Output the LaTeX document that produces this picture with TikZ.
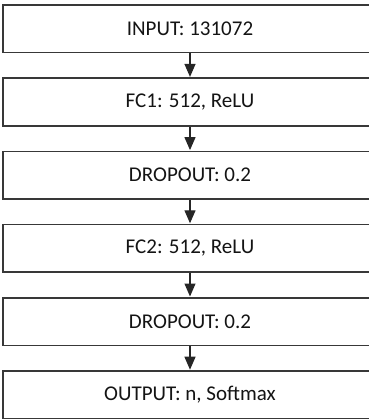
\documentclass[tikz,border=0pt]{standalone}
\usepackage{fontspec}
\setmainfont{Carlito}
\usetikzlibrary{arrows.meta}
\begin{document}
\begin{tikzpicture}[x=1pt,y=-1pt,
  layerbox/.style={draw=black!78, line width=1.6pt, fill=white, minimum width=374pt, minimum height=47.5pt, inner sep=0pt, font=\fontsize{21}{24}\selectfont, text=black!92},
  flow/.style={draw=black!85, line width=1.2pt, -{Triangle[width=11pt,length=13pt]}, shorten >=0.5pt}]
\useasboundingbox (0,0) rectangle (369,420);
\clip (0,0) rectangle (369,420);
\node[layerbox] (in)  at (190,28.75)  {INPUT: 131072};
\node[layerbox] (fc1) at (190,101.95) {FC1: 512, ReLU};
\node[layerbox] (d1)  at (190,175.15) {DROPOUT: 0.2};
\node[layerbox] (fc2) at (190,248.35) {FC2: 512, ReLU};
\node[layerbox] (d2)  at (190,321.55) {DROPOUT: 0.2};
\node[layerbox] (out) at (190,394.75) {OUTPUT: n, Softmax};
\draw[flow] (in) -- (fc1);
\draw[flow] (fc1) -- (d1);
\draw[flow] (d1) -- (fc2);
\draw[flow] (fc2) -- (d2);
\draw[flow] (d2) -- (out);
\end{tikzpicture}
\end{document}
